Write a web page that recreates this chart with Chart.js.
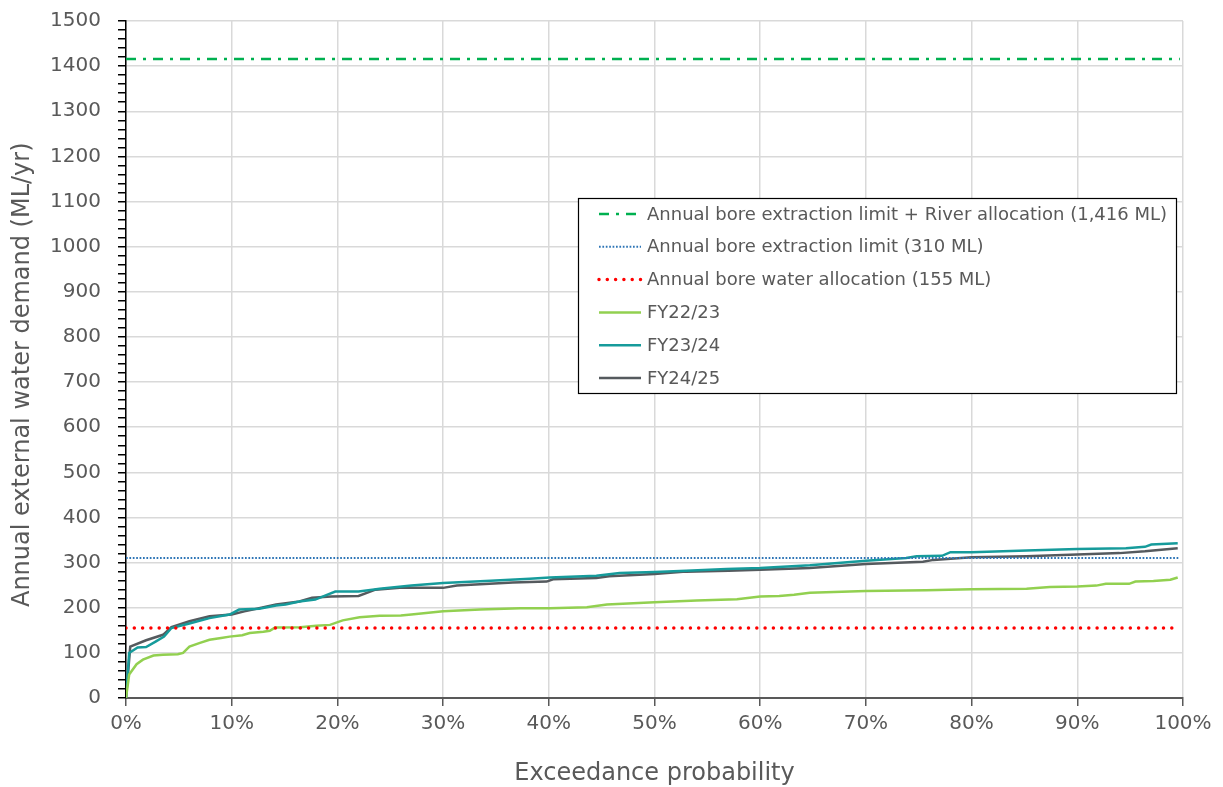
<!DOCTYPE html>
<html>
<head>
<meta charset="utf-8">
<script src="https://cdn.jsdelivr.net/npm/chart.js@4"></script>
<style>
  html, body { margin: 0; padding: 0; background: #fff; overflow: hidden; }
  #wrap { width: 1223px; height: 800px; }
</style>
</head>
<body>
<div id="wrap"><canvas id="demand" width="1223" height="800"></canvas></div>
<script>
// exceedance probability (%) and annual demand (ML/yr)
const fy2223X = [0, 0.3, 1, 1.6, 2.6, 3.5, 4.9, 5.4, 6, 7, 7.9, 9, 9.8, 11, 11.7, 13, 13.6, 14.1, 16.5, 18, 19.3, 20.5, 22.1, 24, 26, 27, 30, 33.5, 37.3, 40.1, 43.6, 45.5, 50, 54, 57.8, 60, 61.8, 63.2, 64.7, 70, 75.7, 80, 85.2, 87.4, 90, 91.8, 92.7, 94.9, 95.5, 97.2, 98.8, 99.5];
const fy2223Y = [0, 52, 75, 85, 94, 96, 97, 100, 114, 122, 129, 133, 136, 139, 144, 147, 149, 156, 157, 160, 162, 172, 179, 182, 183, 185, 192, 196, 199, 199, 201, 207, 212, 216, 219, 225, 226, 229, 233, 237, 239, 241, 242, 246, 247, 249, 253, 253, 258, 259, 262, 267];

const fy2324X = [0, 0.3, 1.1, 1.9, 2.8, 3.6, 4.3, 6, 7.9, 9.8, 10.7, 12.6, 14.2, 15.1, 16.4, 17.9, 19.8, 22, 23.3, 24, 27, 30, 34.5, 38.2, 40.1, 44.5, 46.7, 50, 53, 56.8, 60, 64.7, 70, 73.8, 74.8, 77.2, 78, 80, 85.2, 90, 94.6, 96.4, 97, 99.5];
const fy2324Y = [0, 100, 112, 113, 125, 136, 155, 165, 177, 185, 196, 198, 205, 207, 214, 218, 236, 236, 240, 242, 249, 255, 260, 264, 267, 271, 277, 279, 282, 286, 288, 294, 304, 310, 314, 315, 323, 323, 327, 330, 332, 335, 340, 343];

const fy2425X = [0, 0.4, 1.9, 3.5, 4.3, 6, 7.9, 10, 11.2, 12.8, 14.2, 16.4, 17.6, 19.4, 22, 23.6, 25.9, 27, 30, 31.3, 36.6, 39.8, 40.4, 44.5, 45.7, 50, 53, 57, 60, 64.7, 70, 75.4, 76.4, 80, 85.2, 90, 94, 96.4, 99.5];
const fy2425Y = [0, 114, 128, 140, 157, 170, 181, 185, 192, 200, 207, 214, 222, 225, 226, 240, 244, 244, 244, 249, 256, 258, 263, 266, 270, 275, 280, 282, 284, 288, 297, 302, 306, 312, 314, 318, 321, 325, 332];

const limitRiver = 1416;
const limitBore = 310;
const allocBore = 155;

const xTicks = [0, 10, 20, 30, 40, 50, 60, 70, 80, 90, 100];

const grey = "#595959";
const font = "'DejaVu Sans', sans-serif";

function toPoints(xs, ys) {
    return xs.map((x, i) => ({ x: x, y: ys[i] }));
}

function flat(v) {
    return [{ x: 0, y: v }, { x: 99.7, y: v }];
}

// legend drawn inside the plot, boxed, like the original
const boxLegend = {
    id: "boxLegend",
    afterDraw(chart) {
        const ctx = chart.ctx;
        const left = 578.5, top = 198.5, w = 598, h = 195;
        ctx.save();
        ctx.fillStyle = "#fff";
        ctx.fillRect(left, top, w, h);
        ctx.strokeStyle = "#000";
        ctx.lineWidth = 1.2;
        ctx.strokeRect(left, top, w, h);
        ctx.font = "18px " + font;
        ctx.textBaseline = "middle";
        chart.data.datasets.forEach((ds, i) => {
            const y = 214 + i * 32.8;
            ctx.beginPath();
            ctx.strokeStyle = ds.borderColor;
            ctx.lineWidth = ds.borderWidth;
            ctx.lineCap = ds.borderCapStyle || "butt";
            ctx.setLineDash(ds.borderDash || []);
            ctx.moveTo(599, y);
            ctx.lineTo(641, y);
            ctx.stroke();
            ctx.setLineDash([]);
            ctx.fillStyle = grey;
            ctx.fillText(ds.label, 647, y + 1);
        });
        ctx.restore();
    }
};

new Chart(document.getElementById("demand"), {
    type: "line",
    data: {
        datasets: [
            {
                label: "Annual bore extraction limit + River allocation (1,416 ML)",
                data: flat(limitRiver),
                borderColor: "#00B050",
                borderWidth: 2.5,
                borderDash: [10, 7, 3, 7]
            },
            {
                label: "Annual bore extraction limit (310 ML)",
                data: flat(limitBore),
                borderColor: "#2E75B6",
                borderWidth: 2,
                borderDash: [1.7, 1.7]
            },
            {
                label: "Annual bore water allocation (155 ML)",
                data: flat(allocBore),
                borderColor: "#FF0000",
                borderWidth: 3.5,
                borderDash: [0, 8.3],
                borderCapStyle: "round"
            },
            {
                label: "FY22/23",
                data: toPoints(fy2223X, fy2223Y),
                borderColor: "#92D050",
                borderWidth: 2.5
            },
            {
                label: "FY23/24",
                data: toPoints(fy2324X, fy2324Y),
                borderColor: "#169B9B",
                borderWidth: 2.5
            },
            {
                label: "FY24/25",
                data: toPoints(fy2425X, fy2425Y),
                borderColor: "#555A5E",
                borderWidth: 2.5
            }
        ]
    },
    options: {
        responsive: false,
        animation: false,
        devicePixelRatio: 1,
        elements: { point: { radius: 0 }, line: { tension: 0 } },
        layout: { padding: { top: 21, right: 40, left: 0, bottom: 0 } },
        plugins: {
            legend: { display: false },
            tooltip: { enabled: false }
        },
        scales: {
            x: {
                type: "linear",
                min: 0,
                max: 100,
                afterBuildTicks: (scale) => { scale.ticks = xTicks.map(v => ({ value: v })); },
                afterFit: (scale) => { scale.height = 102; },
                grid: { color: "#D9D9D9", lineWidth: 1.5, tickColor: grey, tickLength: 8, drawOnChartArea: true },
                border: { color: grey, width: 2 },
                ticks: {
                    color: grey,
                    font: { family: font, size: 20 },
                    padding: 6,
                    callback: (v) => v + "%"
                },
                title: {
                    display: true,
                    text: "Exceedance probability",
                    color: grey,
                    font: { family: font, size: 24 },
                    padding: { top: 10, bottom: 12 }
                }
            },
            y: {
                min: 0,
                max: 1500,
                afterBuildTicks: (scale) => {
                    const t = [];
                    for (let v = 0; v <= 1500; v += 20) t.push({ value: v });
                    scale.ticks = t;
                },
                afterFit: (scale) => {
                    scale.width = 126;
                    scale.paddingTop = 0;
                    scale.paddingBottom = 0;
                },
                grid: {
                    color: (c) => (c.tick && c.tick.value % 100 === 0) ? "#D9D9D9" : "rgba(0,0,0,0)",
                    lineWidth: 1.5,
                    tickColor: "#000",
                    tickLength: 8
                },
                border: { color: "#000", width: 1.5 },
                ticks: {
                    autoSkip: false,
                    color: grey,
                    font: { family: font, size: 20 },
                    padding: 17,
                    callback: (v) => v % 100 === 0 ? String(v) : ""
                },
                title: {
                    display: true,
                    text: "Annual external water demand (ML/yr)    ",
                    color: grey,
                    font: { family: font, size: 24 },
                    padding: { top: 8, bottom: 0 }
                }
            }
        }
    },
    plugins: [boxLegend]
});
</script>
</body>
</html>
